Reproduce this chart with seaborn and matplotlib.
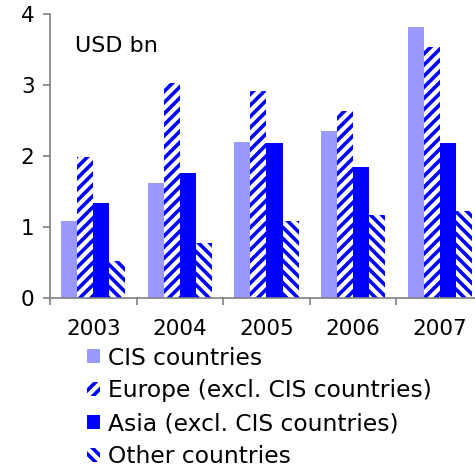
import pandas as pd
import numpy as np
import seaborn as sns
import matplotlib.pyplot as plt
from matplotlib.ticker import FixedLocator

# data (USD bn)
years = ["2003", "2004", "2005", "2006", "2007"]
series = ["CIS countries", "Europe (excl. CIS countries)",
          "Asia (excl. CIS countries)", "Other countries"]
cis = [1.08, 1.62, 2.19, 2.35, 3.82]
europe = [1.99, 3.03, 2.92, 2.63, 3.53]
asia = [1.34, 1.76, 2.18, 1.85, 2.18]
other = [0.52, 0.77, 1.08, 1.17, 1.22]

df = pd.DataFrame({
    "year": years * 4,
    "region": np.repeat(series, len(years)),
    "value": cis + europe + asia + other,
})

sns.set_style("white")
plt.rcParams["font.family"] = ["DejaVu Sans"]
plt.rcParams["text.color"] = "black"
plt.rcParams["xtick.labelcolor"] = "black"
plt.rcParams["ytick.labelcolor"] = "black"
plt.rcParams["hatch.linewidth"] = 2.6

fig = plt.figure(figsize=(4.75, 4.67), dpi=100)
ax = fig.add_axes([0.105, 0.362, 0.912, 0.608])

sns.barplot(data=df, x="year", y="value", hue="region", hue_order=series,
            order=years, width=0.74, ax=ax, legend=False)

# colours and hatches per series
styles = [
    dict(fc="#9999FF", ec="#9999FF", hatch=None),
    dict(fc="white", ec="#0000FF", hatch="///"),
    dict(fc="#0000FF", ec="#0000FF", hatch=None),
    dict(fc="white", ec="#0000FF", hatch="\\\\\\"),
]
for cont, st in zip(ax.containers, styles):
    for bar in cont:
        bar.set_facecolor(st["fc"])
        bar.set_edgecolor(st["ec"])
        bar.set_linewidth(0)
        if st["hatch"]:
            bar.set_hatch(st["hatch"])

ax.set_ylim(0, 4)
ax.set_xlim(-0.5, 4.5)
ax.set_yticks([0, 1, 2, 3, 4])
ax.set_xlabel("")
ax.set_ylabel("")

for s in ["top", "right"]:
    ax.spines[s].set_visible(False)
for s in ["left", "bottom"]:
    ax.spines[s].set_color("#808080")
    ax.spines[s].set_linewidth(1.2)

ax.tick_params(axis="y", labelsize=15.5, length=5, width=1.2, color="#808080",
               direction="out", left=True, pad=6)
ax.tick_params(axis="x", which="major", labelsize=15.5, length=0, pad=15)
ax.xaxis.set_minor_locator(FixedLocator(np.arange(-0.5, 5, 1)))
ax.tick_params(axis="x", which="minor", length=5, width=1.2, color="#808080",
               direction="out", bottom=True)

ax.text(0.058, 0.888, "USD bn", transform=ax.transAxes, fontsize=16,
        va="center", ha="left")

# title is mostly cut off at the top of the image
fig.text(0.55, 1.003, "Direction of imports", fontsize=15, fontweight="bold",
         ha="center", va="bottom")

handles = [ax.containers[i][0] for i in range(4)]
fig.legend(handles, series, loc="upper left", bbox_to_anchor=(0.183, 0.258),
           frameon=False, fontsize=16.8, handlelength=0.55, handleheight=0.55,
           handletextpad=0.35, labelspacing=0.42, borderpad=0,
           borderaxespad=0)

fig.savefig("out.png", dpi=100)
